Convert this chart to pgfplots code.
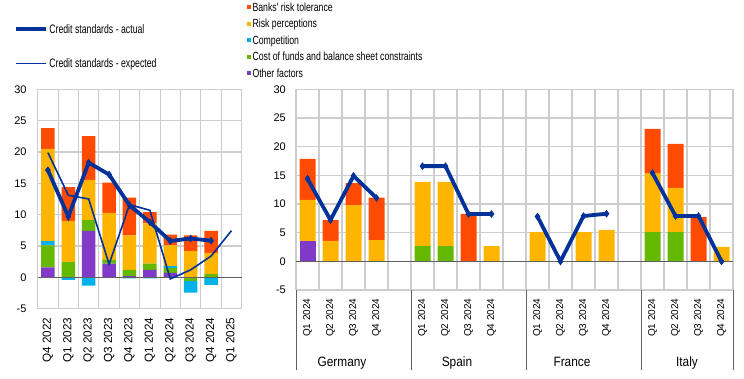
\documentclass[border=0pt]{standalone}
\usepackage{pgfplots}
\pgfplotsset{compat=1.18}
\usepackage{fontspec}
\setmainfont{Liberation Sans}
\newfontfamily\narrowfont{Liberation Sans}[FakeStretch=0.74]
\newfontfamily\narrowerfont{Liberation Sans}[FakeStretch=0.71]
\newfontfamily\cfont{Liberation Sans}[FakeStretch=0.88]

\definecolor{ecbred}{HTML}{FF4B00}
\definecolor{ecbyellow}{HTML}{FFB400}
\definecolor{ecbcyan}{HTML}{00B1EA}
\definecolor{ecbgreen}{HTML}{65B800}
\definecolor{ecbpurple}{HTML}{8139C7}
\definecolor{ecbblue}{HTML}{003299}
\definecolor{gridgray}{RGB}{205,205,205}
\definecolor{axisgray}{RGB}{96,96,96}

\tikzset{gline/.style={draw=gridgray, line width=1.1pt}}

\pgfplotsset{
 leftgeo/.style={scale only axis, width=204pt, height=219.4pt, at={(37.7pt,69.3pt)}, anchor=south west, xmin=-0.5, xmax=9.5, ymin=-5, ymax=30},
 rightgeo/.style={scale only axis, width=437pt, height=200.7pt, at={(296pt,88pt)}, anchor=south west, xmin=-0.5, xmax=18.5, ymin=-5, ymax=30},
 invisible/.style={axis line style={draw=none}, xtick=\empty, ytick=\empty},
 actual/.style={color=ecbblue, line width=3.8pt, mark=diamond*, mark size=3.2pt, mark options={solid, line width=0.8pt, fill=ecbblue}},
 expected/.style={color=ecbblue, line width=1.6pt, mark=none},
 barleg/.style={legend image code/.code={\fill[##1] (0pt,-2pt) rectangle (4pt,2pt);}},
 labelaxis/.style={
   axis line style={draw=none},
   tick style={draw=none},
   ytick={-5,0,...,30},
   /pgf/number format/assume math mode=true,
   yticklabel style={font=\fontsize{11}{13}\selectfont, anchor=east, inner sep=0pt},
   xticklabel style={rotate=90, anchor=east, inner sep=0pt},
 },
}

\begin{document}
\begin{tikzpicture}
\useasboundingbox (0pt,0pt) rectangle (744pt,378pt);

% ---------- LEFT PANEL: grid ----------
\begin{axis}[leftgeo, invisible, clip=false]
\pgfplotsinvokeforeach{-5,0,5,10,15,20,25,30}{\draw[gline] (axis cs:-0.5,#1) -- (axis cs:9.5,#1);}
\pgfplotsinvokeforeach{-0.5,0.5,1.5,2.5,3.5,4.5,5.5,6.5,7.5,8.5,9.5}{\draw[gline] (axis cs:#1,-5) -- (axis cs:#1,30);}
\end{axis}

% ---------- LEFT PANEL: ticks, positive contributions ----------
\begin{axis}[leftgeo, labelaxis, ybar stacked, bar width=13.5pt,
  xtick={0,...,9},
  xticklabels={Q4 2022,Q1 2023,Q2 2023,Q3 2023,Q4 2023,Q1 2024,Q2 2024,Q3 2024,Q4 2024,Q1 2025},
  xticklabel style={font=\fontsize{11.7}{13}\selectfont},
  xticklabel shift=9pt, yticklabel shift=11pt]
\addplot[fill=ecbpurple, draw=none] coordinates {(0,1.6) (1,0) (2,7.4) (3,2.2) (4,0.2) (5,1.2) (6,0.7) (7,0) (8,0)};
\addplot[fill=ecbgreen, draw=none] coordinates {(0,3.5) (1,2.45) (2,1.75) (3,0.6) (4,1.0) (5,1.0) (6,0.8) (7,0) (8,0.5)};
\addplot[fill=ecbcyan, draw=none] coordinates {(0,0.7) (1,0) (2,0) (3,0) (4,0) (5,0) (6,0.3) (7,0) (8,0)};
\addplot[fill=ecbyellow, draw=none] coordinates {(0,14.7) (1,6.55) (2,6.4) (3,7.5) (4,5.5) (5,6.4) (6,3.3) (7,4.2) (8,3.4)};
\addplot[fill=ecbred, draw=none] coordinates {(0,3.3) (1,5.4) (2,7.0) (3,4.8) (4,6.0) (5,1.8) (6,1.7) (7,2.5) (8,3.5)};
\end{axis}

% ---------- LEFT PANEL: negative contributions ----------
\begin{axis}[leftgeo, invisible, ybar stacked, bar width=13.5pt]
\addplot[fill=ecbgreen, draw=none] coordinates {(0,0) (1,0) (2,0) (3,0) (4,0) (5,0) (6,0) (7,-0.6) (8,0)};
\addplot[fill=ecbcyan, draw=none] coordinates {(0,0) (1,-0.4) (2,-1.3) (3,0) (4,-0.15) (5,-0.15) (6,0) (7,-1.85) (8,-1.2)};
\end{axis}

% ---------- LEFT PANEL: lines and legend ----------
\begin{axis}[leftgeo, invisible, clip=false,
  legend image code/.code={\draw[mark repeat=2,mark phase=2,#1,mark size=1.2pt] plot coordinates {(0pt,0pt) (15pt,0pt) (30pt,0pt)};},
  legend cell align=left,
  legend style={draw=none, fill=none, inner sep=0pt, outer sep=0pt,
    at={(axis description cs:-0.1162,1.196)}, anchor=west, row sep=22pt,
    font=\narrowerfont\fontsize{12.3}{14}\selectfont,
    nodes={inner xsep=1.5pt, inner ysep=0pt, text height=10.5pt, text depth=1.5pt}}]
\draw[axisgray, line width=0.9pt] (axis cs:-0.5,0) -- (axis cs:9.5,0);
\addplot[actual] coordinates {(0,17.1) (1,9.7) (2,18.3) (3,16.4) (4,11.5) (5,8.8) (6,5.8) (7,6.2) (8,5.85)};
\addlegendentry{Credit standards - actual}
\addplot[expected] coordinates {(0,19.9) (1,13.1) (2,12.5) (3,2.1) (4,11.6) (5,10.7) (6,-0.25) (7,1.2) (8,3.4) (9,7.45)};
\addlegendentry{Credit standards - expected}
\end{axis}

% ---------- RIGHT PANEL: grid ----------
\begin{axis}[rightgeo, invisible, clip=false]
\pgfplotsinvokeforeach{-5,0,5,10,15,20,25,30}{\draw[gline] (axis cs:-0.5,#1) -- (axis cs:18.5,#1);}
\pgfplotsinvokeforeach{-0.5,0.5,1.5,2.5,3.5,4.5,5.5,6.5,7.5,8.5,9.5,10.5,11.5,12.5,13.5,14.5,15.5,16.5,17.5,18.5}{\draw[gline] (axis cs:#1,-5) -- (axis cs:#1,30);}
\end{axis}

% ---------- RIGHT PANEL: ticks, bars, legend ----------
\begin{axis}[rightgeo, labelaxis, ybar stacked, bar width=16pt, clip=false,
  xtick={0,1,2,3,5,6,7,8,10,11,12,13,15,16,17,18},
  xticklabels={Q1 2024,Q2 2024,Q3 2024,Q4 2024,Q1 2024,Q2 2024,Q3 2024,Q4 2024,Q1 2024,Q2 2024,Q3 2024,Q4 2024,Q1 2024,Q2 2024,Q3 2024,Q4 2024},
  xticklabel style={font=\fontsize{10}{12}\selectfont},
  xticklabel shift=8.3pt, yticklabel shift=10pt,
  reverse legend, legend cell align=left,
  legend style={draw=none, fill=none, inner sep=0pt, outer sep=0pt,
    at={(axis description cs:-0.1121,1.2441)}, anchor=west, row sep=5.5pt,
    font=\narrowfont\fontsize{11.8}{13}\selectfont,
    nodes={inner xsep=1.5pt, inner ysep=0pt, text height=9.5pt, text depth=1.5pt}}]
\addplot[fill=ecbpurple, draw=none, barleg] coordinates {(0,3.55) (1,0) (2,0) (3,0) (5,0) (6,0) (7,0) (8,0) (10,0) (11,0) (12,0) (13,0) (15,0) (16,0) (17,0) (18,0)};
\addlegendentry{Other factors}
\addplot[fill=ecbgreen, draw=none, barleg] coordinates {(0,0) (1,0) (2,0) (3,0) (5,2.67) (6,2.67) (7,0) (8,0) (10,0) (11,0) (12,0) (13,0) (15,5.1) (16,5.1) (17,0) (18,0)};
\addlegendentry{Cost of funds and balance sheet constraints}
\addplot[fill=ecbcyan, draw=none, barleg] coordinates {(0,0) (1,0) (2,0) (3,0) (5,0) (6,0) (7,0) (8,0) (10,0) (11,0) (12,0) (13,0) (15,0) (16,0) (17,0) (18,0)};
\addlegendentry{Competition}
\addplot[fill=ecbyellow, draw=none, barleg] coordinates {(0,7.15) (1,3.55) (2,9.8) (3,3.7) (5,11.17) (6,11.17) (7,0) (8,2.67) (10,5.1) (11,0) (12,5.1) (13,5.47) (15,10.3) (16,7.7) (17,0) (18,2.5)};
\addlegendentry{Risk perceptions}
\addplot[fill=ecbred, draw=none, barleg] coordinates {(0,7.15) (1,3.65) (2,3.85) (3,7.4) (5,0) (6,0) (7,8.26) (8,0) (10,0) (11,0) (12,0) (13,0) (15,7.68) (16,7.67) (17,7.73) (18,0)};
\addlegendentry{Banks' risk tolerance}
\draw[axisgray, line width=0.9pt] (axis cs:-0.5,-5) -- ++(0pt,-80pt);
\draw[axisgray, line width=0.9pt] (axis cs:4.5,-5) -- ++(0pt,-80pt);
\draw[axisgray, line width=0.9pt] (axis cs:9.5,-5) -- ++(0pt,-80pt);
\draw[axisgray, line width=0.9pt] (axis cs:14.5,-5) -- ++(0pt,-80pt);
\draw[axisgray, line width=0.9pt] (axis cs:18.5,-5) -- ++(0pt,-80pt);
\node[anchor=base, font=\cfont\fontsize{13.5}{15}\selectfont, inner sep=0pt] at ([yshift=-76.7pt]axis cs:1.5,-5) {Germany};
\node[anchor=base, font=\cfont\fontsize{13.5}{15}\selectfont, inner sep=0pt] at ([yshift=-76.7pt]axis cs:6.5,-5) {Spain};
\node[anchor=base, font=\cfont\fontsize{13.5}{15}\selectfont, inner sep=0pt] at ([yshift=-76.7pt]axis cs:11.5,-5) {France};
\node[anchor=base, font=\cfont\fontsize{13.5}{15}\selectfont, inner sep=0pt] at ([yshift=-76.7pt]axis cs:16.5,-5) {Italy};
\end{axis}

% ---------- RIGHT PANEL: lines ----------
\begin{axis}[rightgeo, invisible, clip=false]
\draw[axisgray, line width=0.9pt] (axis cs:-0.5,0) -- (axis cs:18.5,0);
\addplot[actual] coordinates {(0,14.4) (1,7.2) (2,14.9) (3,11.05)};
\addplot[actual] coordinates {(5,16.6) (6,16.6) (7,8.25) (8,8.25)};
\addplot[actual] coordinates {(10,7.8) (11,0) (12,7.9) (13,8.3)};
\addplot[actual] coordinates {(15,15.4) (16,7.9) (17,7.9) (18,0)};
\end{axis}
\end{tikzpicture}
\end{document}
